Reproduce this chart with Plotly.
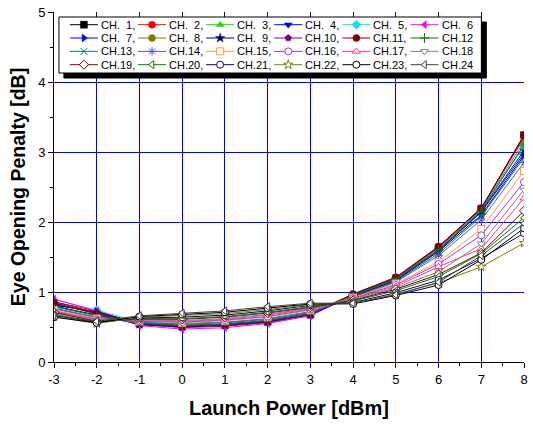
import plotly.graph_objects as go

launch_power = [-3, -2, -1, 0, 1, 2, 3, 4, 5, 6, 7, 8]

ch01 = [0.84, 0.70, 0.55, 0.51, 0.53, 0.58, 0.68, 0.95, 1.19, 1.63, 2.19, 3.24]
ch02 = [0.86, 0.73, 0.54, 0.49, 0.51, 0.56, 0.67, 0.97, 1.21, 1.65, 2.20, 3.22]
ch03 = [0.83, 0.69, 0.56, 0.52, 0.54, 0.59, 0.69, 0.96, 1.18, 1.62, 2.17, 3.10]
ch04 = [0.82, 0.71, 0.53, 0.50, 0.52, 0.57, 0.68, 0.94, 1.17, 1.60, 2.15, 3.02]
ch05 = [0.89, 0.74, 0.57, 0.53, 0.55, 0.60, 0.70, 0.97, 1.20, 1.64, 2.18, 3.08]
ch06 = [0.90, 0.73, 0.52, 0.47, 0.49, 0.55, 0.66, 0.95, 1.19, 1.63, 2.20, 3.20]
ch07 = [0.81, 0.72, 0.55, 0.51, 0.53, 0.58, 0.68, 0.96, 1.18, 1.59, 2.14, 2.98]
ch08 = [0.85, 0.68, 0.56, 0.52, 0.54, 0.59, 0.69, 0.95, 1.19, 1.62, 2.18, 3.15]
ch09 = [0.80, 0.67, 0.54, 0.51, 0.53, 0.58, 0.68, 0.94, 1.16, 1.58, 2.10, 2.95]
ch10 = [0.86, 0.70, 0.55, 0.51, 0.53, 0.58, 0.68, 0.96, 1.20, 1.64, 2.20, 3.23]
ch11 = [0.84, 0.69, 0.56, 0.52, 0.54, 0.59, 0.69, 0.97, 1.21, 1.65, 2.19, 3.24]
ch12 = [0.79, 0.66, 0.55, 0.52, 0.54, 0.59, 0.69, 0.95, 1.18, 1.60, 2.16, 3.10]
ch13 = [0.77, 0.64, 0.56, 0.54, 0.56, 0.61, 0.71, 0.93, 1.15, 1.55, 2.08, 2.92]
ch14 = [0.76, 0.63, 0.57, 0.55, 0.57, 0.62, 0.72, 0.92, 1.14, 1.52, 2.03, 2.85]
ch15 = [0.74, 0.62, 0.58, 0.56, 0.59, 0.64, 0.74, 0.92, 1.12, 1.43, 1.90, 2.73]
ch16 = [0.72, 0.61, 0.58, 0.57, 0.60, 0.65, 0.75, 0.91, 1.10, 1.40, 1.81, 2.57]
ch17 = [0.73, 0.60, 0.59, 0.58, 0.61, 0.67, 0.76, 0.90, 1.08, 1.36, 1.62, 2.34]
ch18 = [0.70, 0.59, 0.60, 0.59, 0.62, 0.68, 0.77, 0.89, 1.06, 1.29, 1.69, 2.46]
ch19 = [0.71, 0.58, 0.61, 0.61, 0.64, 0.70, 0.78, 0.88, 1.04, 1.25, 1.56, 2.16]
ch20 = [0.68, 0.57, 0.62, 0.62, 0.65, 0.71, 0.79, 0.87, 1.02, 1.22, 1.55, 2.06]
ch21 = [0.67, 0.56, 0.63, 0.64, 0.67, 0.73, 0.81, 0.85, 0.99, 1.17, 1.48, 1.84]
ch22 = [0.65, 0.55, 0.64, 0.66, 0.69, 0.75, 0.82, 0.84, 0.97, 1.13, 1.36, 1.70]
ch23 = [0.64, 0.56, 0.65, 0.68, 0.71, 0.77, 0.83, 0.83, 0.95, 1.10, 1.46, 1.91]
ch24 = [0.66, 0.58, 0.66, 0.70, 0.73, 0.79, 0.84, 0.84, 0.96, 1.14, 1.52, 1.98]

series = [ch01, ch02, ch03, ch04, ch05, ch06, ch07, ch08, ch09, ch10, ch11, ch12,
          ch13, ch14, ch15, ch16, ch17, ch18, ch19, ch20, ch21, ch22, ch23, ch24]

NB = "\u00a0"
labels = ["CH." + NB + NB + "1,", "CH." + NB + NB + "2,", "CH." + NB + NB + "3,",
          "CH." + NB + NB + "4,", "CH." + NB + NB + "5,", "CH." + NB + NB + "6",
          "CH." + NB + NB + "7,", "CH." + NB + NB + "8,", "CH." + NB + NB + "9,",
          "CH.10,", "CH.11,", "CH.12", "CH.13,", "CH.14,", "CH.15,", "CH.16,",
          "CH.17,", "CH.18", "CH.19,", "CH.20,", "CH.21,", "CH.22,", "CH.23,", "CH.24"]

colors = ["#000000", "#ff0000", "#00ee00", "#0000ff", "#00e5ee", "#ff00ff",
          "#0000ff", "#808000", "#000080", "#800080", "#800000", "#008000",
          "#008080", "#5555cc", "#ff9933", "#9933ff", "#ff3399", "#808080",
          "#800000", "#008000", "#000080", "#808000", "#000000", "#404040"]

symbols = ["square", "circle", "triangle-up", "triangle-down", "diamond", "triangle-left",
           "triangle-right", "circle", "star", "pentagon", "circle", "cross-thin",
           "x-thin", "asterisk", "square", "circle", "triangle-up", "triangle-down",
           "diamond", "triangle-left", "circle", "star", "circle", "triangle-left"]

filled = [True] * 12 + [False] * 12
thin = {"cross-thin", "x-thin", "asterisk"}


def marker_for(i):
    c = colors[i]
    sym = symbols[i]
    if sym in thin:
        return dict(symbol=sym, size=7, color=c, line=dict(color=c, width=1))
    if filled[i]:
        return dict(symbol=sym, size=7, color=c, line=dict(color=c, width=0.5))
    return dict(symbol=sym, size=7, color="white", line=dict(color=c, width=1))


fig = go.Figure()
for i, ys in enumerate(series):
    fig.add_trace(go.Scatter(
        x=launch_power, y=ys, mode="lines+markers", name=labels[i],
        line=dict(color=colors[i], width=1), marker=marker_for(i),
        showlegend=False))

# ---- legend drawn in a pixel-unit overlay axis (x2/y2) ----
LEG_L, LEG_T, LEG_R, LEG_B = 59, 17, 485, 73
SHADOW = 5
COL_W, ROW_H = 68.7, 13.33
LINE_X0, LINE_X1, TEXT_X, ROW0 = 70, 98.3, 100.3, 24.7

fig.add_trace(go.Scatter(
    x=[LEG_L + SHADOW, LEG_R + SHADOW, LEG_R + SHADOW, LEG_L + SHADOW, LEG_L + SHADOW],
    y=[LEG_T + SHADOW, LEG_T + SHADOW, LEG_B + SHADOW, LEG_B + SHADOW, LEG_T + SHADOW],
    xaxis="x2", yaxis="y2", mode="lines", fill="toself", fillcolor="black",
    line=dict(color="black", width=1), showlegend=False, hoverinfo="skip"))
fig.add_trace(go.Scatter(
    x=[LEG_L, LEG_R, LEG_R, LEG_L, LEG_L],
    y=[LEG_T, LEG_T, LEG_B, LEG_B, LEG_T],
    xaxis="x2", yaxis="y2", mode="lines", fill="toself", fillcolor="white",
    line=dict(color="black", width=1), showlegend=False, hoverinfo="skip"))

FONT = "Arial, Liberation Sans, sans-serif"
annotations = []
for i in range(len(series)):
    col, row = i % 6, i // 6
    yy = ROW0 + row * ROW_H
    x0 = LINE_X0 + col * COL_W
    x1 = LINE_X1 + col * COL_W
    fig.add_trace(go.Scatter(
        x=[x0, x1], y=[yy, yy], xaxis="x2", yaxis="y2", mode="lines",
        line=dict(color=colors[i], width=1), showlegend=False, hoverinfo="skip"))
    fig.add_trace(go.Scatter(
        x=[(x0 + x1) / 2], y=[yy], xaxis="x2", yaxis="y2", mode="markers",
        marker=marker_for(i), showlegend=False, hoverinfo="skip"))
    annotations.append(dict(
        x=TEXT_X + col * COL_W, y=yy, xref="x2", yref="y2",
        xanchor="left", yanchor="middle", showarrow=False, text=labels[i],
        font=dict(family=FONT, size=11, color="black"), borderpad=0))

fig.update_layout(
    width=533, height=424,
    margin=dict(l=54, r=5, t=12, b=62),
    paper_bgcolor="white", plot_bgcolor="white",
    font=dict(family=FONT, color="black", size=13),
    showlegend=False,
    annotations=annotations,
    xaxis=dict(
        range=[-3, 8], tickmode="array", tickvals=launch_power,
        ticktext=[str(v) for v in launch_power],
        showgrid=True, gridcolor="#0000ff", gridwidth=1,
        showline=True, linecolor="black", linewidth=1,
        ticks="outside", ticklen=5, tickcolor="black",
        minor=dict(ticks="outside", ticklen=3, dtick=0.5, tickcolor="black", showgrid=False),
        zeroline=False, mirror=False,
        tickfont=dict(size=13),
        title=dict(text="<b>Launch Power [dBm]</b>", font=dict(size=20), standoff=15),
    ),
    yaxis=dict(
        range=[0, 5], tickvals=[0, 1, 2, 3, 4, 5],
        showgrid=True, gridcolor="#0000ff", gridwidth=1,
        showline=True, linecolor="black", linewidth=1,
        ticks="outside", ticklen=5, tickcolor="black",
        minor=dict(ticks="outside", ticklen=3, dtick=0.5, tickcolor="black", showgrid=False),
        zeroline=False, mirror=False,
        tickfont=dict(size=13),
        title=dict(text="<b>Eye Opening Penalty [dB]</b>", font=dict(size=19.5), standoff=7),
    ),
    xaxis2=dict(range=[54, 528], overlaying="x", anchor="y2", visible=False, fixedrange=True),
    yaxis2=dict(range=[362, 12], overlaying="y", anchor="x2", visible=False, fixedrange=True),
)

fig.write_html("out.html")
